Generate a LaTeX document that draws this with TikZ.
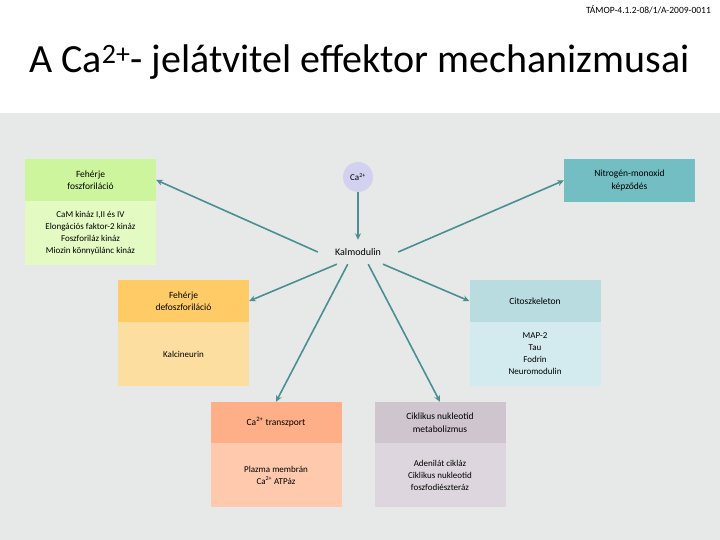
\documentclass[tikz,border=0pt]{standalone}
\usepackage{fontspec}
\setmainfont{Carlito}
\usetikzlibrary{arrows.meta}

\definecolor{panel}{HTML}{E7E9E8}
\definecolor{arrcol}{HTML}{4A8F91}
\definecolor{cacol}{HTML}{D2D2F0}
\definecolor{fosh}{HTML}{CDF59D}
\definecolor{fosb}{HTML}{E3FBC3}
\definecolor{noh}{HTML}{72BEC3}
\definecolor{defh}{HTML}{FFCB66}
\definecolor{defb}{HTML}{FCDFA0}
\definecolor{cith}{HTML}{B8DCE0}
\definecolor{citb}{HTML}{D3EBEE}
\definecolor{trh}{HTML}{FFAF88}
\definecolor{trb}{HTML}{FEC9AD}
\definecolor{cikh}{HTML}{CEC5CF}
\definecolor{cikb}{HTML}{DDD6DE}

\begin{document}
\begin{tikzpicture}[
            x = 1pt, y = -1pt,
            head/.style = {inner sep = 0mm, minimum width = 131pt, minimum height = 42pt, align = center, font = \fontsize{9.5}{12.5}\selectfont},
            body/.style = {inner sep = 0mm, minimum width = 131pt, minimum height = 64pt, align = center, font = \fontsize{9}{12}\selectfont},
            arr/.style = {draw, line width = 1.6pt, arrcol, -{Stealth[length = 6.5pt, width = 6pt]}},
        ]
        \useasboundingbox (0,0) rectangle (720,540);
        \fill[white] (0,0) rectangle (720,540);
        \fill[panel] (0,113) rectangle (720,540);

        \node (ref) [anchor = east, inner sep = 0mm, font = \fontsize{9.5}{10}\selectfont] at (711,10) {TÁMOP-4.1.2-08/1/A-2009-0011};
        \node (title) [anchor = base west, inner sep = 0mm, font = \fontsize{40}{44}\selectfont] at (29,73) {A Ca\textsuperscript{2+}- jelátvitel effektor mechanizmusai};

        \node (ca) [circle, fill = cacol, minimum size = 30pt, inner sep = 0mm, font = \fontsize{9}{10}\selectfont] at (358,177) {Ca\textsuperscript{2+}};
        \node (kal) [inner sep = 0mm, minimum width = 80pt, minimum height = 24pt, font = \fontsize{10}{11}\selectfont] at (358,252) {Kalmodulin};

        \node (fos) [head, fill = fosh] at (90.5,180) {Fehérje\\foszforiláció};
        \node (fosl) [body, fill = fosb] at (90.5,233) {CaM kináz I,II és IV\\Elongációs faktor-2 kináz\\Foszforiláz kináz\\Miozin könnyűlánc kináz};

        \node (no) [head, fill = noh, minimum height = 43pt] at (629.5,180.5) {Nitrogén-monoxid\\képződés};

        \node (def) [head, fill = defh] at (183.5,301) {Fehérje\\defoszforiláció};
        \node (defl) [body, fill = defb] at (183.5,354) {Kalcineurin};

        \node (cit) [head, fill = cith] at (535,301) {Citoszkeleton};
        \node (citl) [body, fill = citb] at (535,354) {MAP-2\\Tau\\Fodrin\\Neuromodulin};

        \node (tr) [head, fill = trh, minimum height = 41pt] at (276,422.5) {Ca\textsuperscript{2+} transzport};
        \node (trl) [body, fill = trb] at (276,475) {Plazma membrán\\Ca\textsuperscript{2+} ATPáz};

        \node (cik) [head, fill = cikh, minimum height = 41pt] at (440,422.5) {Ciklikus nukleotid\\metabolizmus};
        \node (cikl) [body, fill = cikb] at (440,475) {Adenilát cikláz\\Ciklikus nukleotid\\foszfodiészteráz};

        \path[arr] (ca) -- (kal.north);
        \path[arr] (kal.west) -- (fos.east);
        \path[arr] (kal.east) -- (no.west);
        \path[arr] (kal.210) -- (def.east);
        \path[arr] (kal.334) -- (cit.west);
        \path[arr] (kal.230) -- (tr.north);
        \path[arr] (kal.310) -- (cik.north);
    \end{tikzpicture}
\end{document}
